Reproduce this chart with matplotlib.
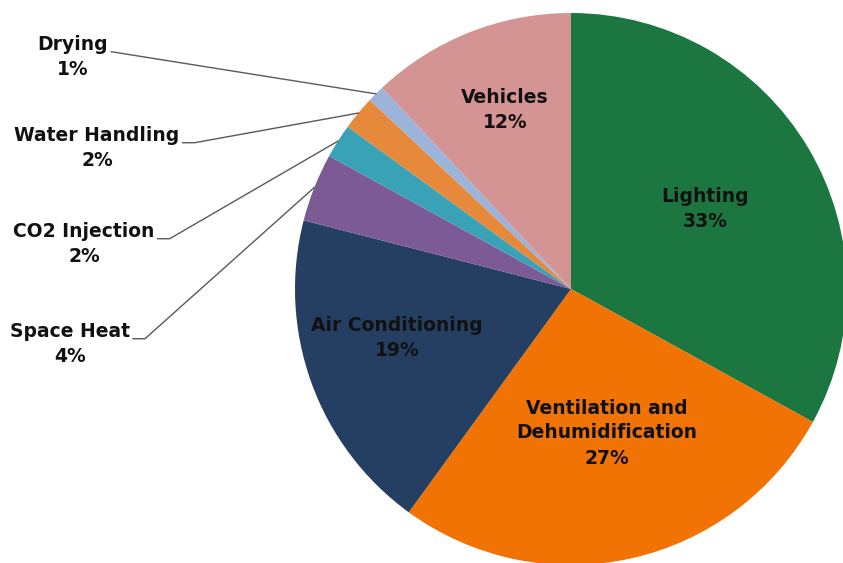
import numpy as np
import matplotlib
matplotlib.use("Agg")
import matplotlib.pyplot as plt

categories = ["Lighting", "Ventilation and\nDehumidification", "Air Conditioning", "Space Heat",
              "CO2 Injection", "Water Handling", "Drying", "Vehicles"]
shares = [33, 27, 19, 4, 2, 2, 1, 12]
colors = ["#1b7640", "#f07304", "#243f62", "#7b5a95", "#3aa2b6", "#e6893a", "#9cb4da", "#d39493"]

# label placement in figure pixels; outside labels also get an elbow length
inside = {0: (705, 209), 1: (607, 433), 2: (397, 338), 7: (505, 110)}
outside = {6: (73, 57, 0), 5: (97, 148, 12), 4: (84, 244, 12), 3: (70, 344, 12)}

plt.rcParams['font.family'] = ['DejaVu Sans']
W, H = 843, 563
fig = plt.figure(figsize=(W / 100, H / 100), dpi=100)
cx, cy, r = 571, 289, 276
ax = fig.add_axes([(cx - r) / W, (H - cy - r) / H, 2 * r / W, 2 * r / H])
wedges, _ = ax.pie(shares, colors=colors, startangle=90, counterclock=False, radius=1,
                   wedgeprops=dict(linewidth=0))
ax.set_xlim(-1, 1)
ax.set_ylim(-1, 1)
ax.set_aspect('equal')
ax.axis('off')

inv = ax.transData.inverted()
fs = 13.5
for i, w in enumerate(wedges):
    mid = np.deg2rad((w.theta1 + w.theta2) / 2)
    label = f"{categories[i]}\n{shares[i]}%"
    if i in inside:
        px, py = inside[i]
        tx, ty = inv.transform((px, H - py))
        ax.text(tx, ty, label, ha='center', va='center',
                fontsize=fs, fontweight='bold', color='#111111', linespacing=1.4)
    else:
        px, py, elbow = outside[i]
        tx, ty = inv.transform((px, H - py))
        t = ax.text(tx, ty, label, ha='center', va='center', fontsize=fs,
                    fontweight='bold', color='#111111', linespacing=1.4, clip_on=False)
        fig.canvas.draw()
        bb = t.get_window_extent()
        # anchor near the baseline of the first line
        ax_px = bb.x1 + 3
        ay_px = bb.y1 - bb.height * 0.38
        a0 = inv.transform((ax_px, ay_px))
        a1 = inv.transform((ax_px + elbow, ay_px))
        ex, ey = np.cos(mid), np.sin(mid)
        ax.plot([a0[0], a1[0], ex], [a0[1], a1[1], ey], color='#595959', lw=1.0,
                clip_on=False)

fig.savefig("out.png", dpi=100, facecolor='white')
